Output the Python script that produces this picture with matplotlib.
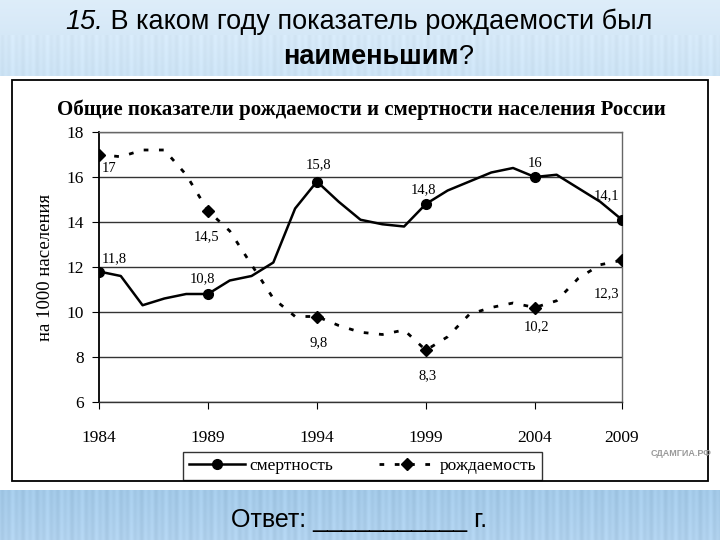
import numpy as np
import matplotlib
matplotlib.use("Agg")
import matplotlib.pyplot as plt
from matplotlib.patches import Rectangle

# data (one point per year, 25 points)
mortality = [11.8, 11.6, 10.3, 10.6, 10.8, 10.8, 11.4, 11.6, 12.2, 14.6,
             15.8, 14.9, 14.1, 13.9, 13.8, 14.8, 15.4, 15.8, 16.2, 16.4,
             16.0, 16.1, 15.5, 14.9, 14.1]
births = [17.0, 16.9, 17.2, 17.2, 16.1, 14.5, 13.6, 12.1, 10.6, 9.8,
          9.8, 9.4, 9.1, 9.0, 9.2, 8.3, 8.9, 9.9, 10.2, 10.4,
          10.2, 10.5, 11.5, 12.1, 12.3]

tick_pos = [0, 5, 10, 15, 20, 24]
tick_labels = ['1984', '1989', '1994', '1999', '2004', '2009']
mort_labels = ['11,8', '10,8', '15,8', '14,8', '16', '14,1']
birth_labels = ['17', '14,5', '9,8', '8,3', '10,2', '12,3']

W, H = 720, 540
SERIF = 'Liberation Serif'
SANS = 'Liberation Sans'


def fx(px):
    return px / W


def fy(py):
    return 1 - py / H


fig = plt.figure(figsize=(7.2, 5.4), dpi=100)

# slide background: light blue top band, white middle, blue bottom band
bg = np.ones((H, W, 3))
top = np.linspace(0, 1, 76)[:, None]
bg[:76] = (np.array([0.87, 0.93, 0.98]) * (1 - top[..., None]) +
           np.array([0.80, 0.89, 0.96]) * top[..., None])
cols = np.arange(W)
stripe = 0.012 * np.sin(cols * 0.9) + 0.008 * np.sin(cols * 0.37)
bg[35:76] -= stripe[None, :, None]
bot = np.linspace(0, 1, H - 490)[:, None]
bg[490:] = (np.array([0.64, 0.79, 0.91]) * (1 - bot[..., None]) +
            np.array([0.69, 0.82, 0.93]) * bot[..., None])
bg[490:] -= 1.5 * stripe[None, :, None]
bga = fig.add_axes([0, 0, 1, 1], zorder=-10)
bga.imshow(np.clip(bg, 0, 1), aspect='auto', extent=[0, W, H, 0])
bga.axis('off')

# frame around the chart picture
fig.patches.append(Rectangle((fx(12), fy(481)), fx(708) - fx(12), fy(80) - fy(481),
                             transform=fig.transFigure, fill=False,
                             edgecolor='black', linewidth=1.3, zorder=1))

# question on top
t1 = fig.text(fx(65), fy(22), '15.', fontsize=19.5, family=SANS, style='italic',
              va='center', ha='left')
fig.canvas.draw()
r = fig.canvas.get_renderer()
e = t1.get_window_extent(r)
fig.text(e.x1 / W, fy(22), ' В каком году показатель рождаемости был', fontsize=19.5,
         family=SANS, va='center', ha='left')
t2 = fig.text(fx(283), fy(57), 'наименьшим', fontsize=19.5, family=SANS,
              weight='bold', va='center', ha='left')
fig.canvas.draw()
e2 = t2.get_window_extent(r)
fig.text(e2.x1 / W, fy(57), '?', fontsize=19.5, family=SANS, va='center', ha='left')

# answer line
fig.text(fx(359), fy(520), 'Ответ: ___________ г.', fontsize=18, family=SANS,
         va='center', ha='center')

# watermark
fig.text(fx(651), fy(454), 'СДАМГИА.РФ', fontsize=6.5, family=SANS, color='#9a9a9a',
         va='center', ha='left', weight='bold')

# chart title
fig.text(fx(361), fy(110), 'Общие показатели рождаемости и смертности населения России',
         fontsize=15, family=SERIF, weight='bold', va='center', ha='center')

ax = fig.add_axes([fx(99), fy(402), fx(622) - fx(99), fy(132) - fy(402)])
x = np.arange(len(mortality))

ax.plot(x, mortality, '-', color='black', linewidth=1.8, marker='o',
        markersize=7, markevery=tick_pos, label='смертность', zorder=3)
ax.plot(x, births, '--', color='black', linewidth=2.0, marker='D',
        markersize=6, markevery=tick_pos, dashes=(1.7, 3.8), label='рождаемость',
        zorder=3)

mort_off = [(11, 9), (-4, 11), (1, 12), (-2, 10), (0, 10), (-11, 17)]
birth_off = [(7, -10), (-1, -19), (1, -19), (1, -18), (1, -14), (-11, -24)]
for i, lab, off in zip(tick_pos, mort_labels, mort_off):
    ax.annotate(lab, (i, mortality[i]), xytext=off, textcoords='offset points',
                ha='center', va='center', fontsize=10.5, family=SERIF)
for i, lab, off in zip(tick_pos, birth_labels, birth_off):
    ax.annotate(lab, (i, births[i]), xytext=off, textcoords='offset points',
                ha='center', va='center', fontsize=10.5, family=SERIF)

ax.set_xlim(0, 24)
ax.set_ylim(6, 18)
ax.set_yticks(range(6, 19, 2))
ax.set_xticks(tick_pos)
ax.set_xticklabels(tick_labels)
ax.yaxis.grid(True, color='#333333', linewidth=1.0)
ax.set_axisbelow(True)
for s in ['top', 'right']:
    ax.spines[s].set_color('#666666')
    ax.spines[s].set_linewidth(1.0)
ax.spines['left'].set_linewidth(1.3)
ax.spines['bottom'].set_linewidth(1.0)
ax.spines['bottom'].set_color('#333333')
ax.tick_params(axis='x', direction='out', length=5, pad=15, labelsize=12.5)
ax.tick_params(axis='y', direction='out', length=5, pad=6, labelsize=12.5)
for lbl in ax.get_xticklabels() + ax.get_yticklabels():
    lbl.set_family(SERIF)
ax.set_ylabel('на 1000 населения', fontsize=13.5, family=SERIF, labelpad=9)

leg = ax.legend(loc='lower left', bbox_to_anchor=(fx(183), fy(480)),
                bbox_transform=fig.transFigure, ncol=2, frameon=True, fancybox=False,
                edgecolor='black', borderaxespad=0, handlelength=3.2,
                columnspacing=2.6, prop={'family': SERIF, 'size': 12.5},
                borderpad=0.35, handletextpad=0.3)
leg.get_frame().set_linewidth(1.0)

fig.savefig('out.png', dpi=100)
